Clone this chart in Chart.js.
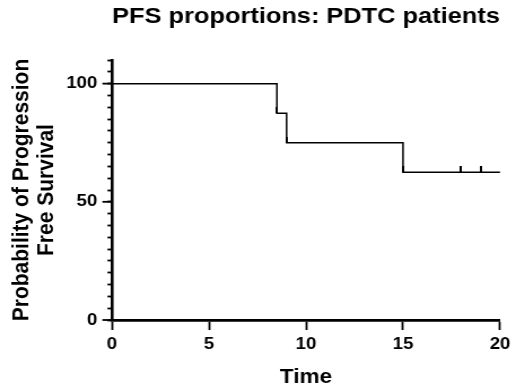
<!DOCTYPE html>
<html lang="en">
<head>
  <meta charset="UTF-8" />
  <title>PFS proportions: PDTC patients</title>
  <script src="https://cdn.jsdelivr.net/npm/chart.js"></script>
  <style>
    * { box-sizing: border-box; }
    body { margin: 0; padding: 0; background: #fff; }
    #chart { display: block; }
  </style>
</head>
<body>
  <!-- glyphs in the reference are a bit wider than tall, so the canvas is stretched horizontally -->
  <canvas id="chart" width="457" height="387" style="width:516px;height:387px"></canvas>

  <script>
    // Kaplan-Meier step curve
    const timePoints = [0, 8.5, 9, 15, 20];
    const survival = [100, 87.5, 75, 62.5, 62.5];

    // censored observations (tick marks)
    const censorTimes = [8.5, 9, 15, 18, 19];
    const censorSurvival = [87.5, 75, 62.5, 62.5, 62.5];

    const xTicks = [0, 5, 10, 15, 20];
    const yMajorTicks = [0, 50, 100];

    const FONT = "'Liberation Sans', Arial, sans-serif";

    // little upright tick used for censored points (sits on top of the line)
    const censorMark = document.createElement('canvas');
    censorMark.width = 2;
    censorMark.height = 12;
    const cm = censorMark.getContext('2d');
    cm.fillStyle = '#000';
    cm.fillRect(0, 0, 2, 6);

    // longer outer ticks for the labelled y values
    const majorTicks = {
      id: 'majorTicks',
      afterDraw(chart) {
        const s = chart.scales.y;
        const ctx = chart.ctx;
        ctx.save();
        ctx.strokeStyle = '#000';
        ctx.lineWidth = 1.8;
        yMajorTicks.forEach(v => {
          const y = s.getPixelForValue(v);
          ctx.beginPath();
          ctx.moveTo(s.right - 8.5, y);
          ctx.lineTo(s.right, y);
          ctx.stroke();
        });
        ctx.restore();
      }
    };

    new Chart(document.getElementById('chart'), {
      type: 'line',
      data: {
        datasets: [
          {
            data: timePoints.map((t, i) => ({ x: t, y: survival[i] })),
            borderColor: '#000',
            borderWidth: 1.5,
            stepped: true,
            pointRadius: 0,
            fill: false,
            clip: false
          },
          {
            data: censorTimes.map((t, i) => ({ x: t, y: censorSurvival[i] })),
            showLine: false,
            pointStyle: censorMark,
            pointRadius: 3,
            clip: false
          }
        ]
      },
      options: {
        responsive: false,
        animation: false,
        layout: { padding: { left: 0, right: 11.5, top: 0, bottom: 0 } },
        plugins: {
          legend: { display: false },
          tooltip: { enabled: false },
          title: {
            display: true,
            fullSize: false,
            text: 'PFS proportions: PDTC patients',
            color: '#000',
            font: { family: FONT, size: 22.5, weight: 'bold', lineHeight: 1.2 },
            padding: { top: 3.1, bottom: 29.9 }
          }
        },
        scales: {
          x: {
            type: 'linear',
            min: 0,
            max: 20,
            afterFit: s => { s.height = 67; },
            afterBuildTicks: s => { s.ticks = xTicks.map(v => ({ value: v })); },
            ticks: {
              color: '#000',
              padding: 5,
              maxRotation: 0,
              font: { family: FONT, size: 16.5, weight: 'bold' }
            },
            grid: {
              drawOnChartArea: false,
              drawTicks: true,
              tickLength: 10,
              tickWidth: 1.8,
              tickColor: '#000'
            },
            border: { color: '#000', width: 2.7 },
            title: {
              display: true,
              text: 'Time',
              color: '#000',
              font: { family: FONT, size: 20, weight: 'bold', lineHeight: 1 },
              padding: { top: 0, bottom: 0 }
            }
          },
          y: {
            min: 0,
            max: 110,
            afterFit: s => { s.width = 99.2; },
            ticks: {
              stepSize: 5,
              autoSkip: false,
              color: '#000',
              padding: 9,
              font: { family: FONT, size: 16.5, weight: 'bold' },
              callback: v => (yMajorTicks.includes(v) ? v : '')
            },
            grid: {
              drawOnChartArea: false,
              drawTicks: true,
              tickLength: 4,
              tickWidth: 1.8,
              tickColor: '#000'
            },
            border: { color: '#000', width: 2.6 },
            title: {
              display: true,
              text: ['Probability of Progression', 'Free Survival'],
              color: '#000',
              font: { family: FONT, size: 21, weight: 'bold', lineHeight: 1.05 },
              padding: { top: 8.2, bottom: 0 }
            }
          }
        }
      },
      plugins: [majorTicks]
    });
  </script>
</body>
</html>
